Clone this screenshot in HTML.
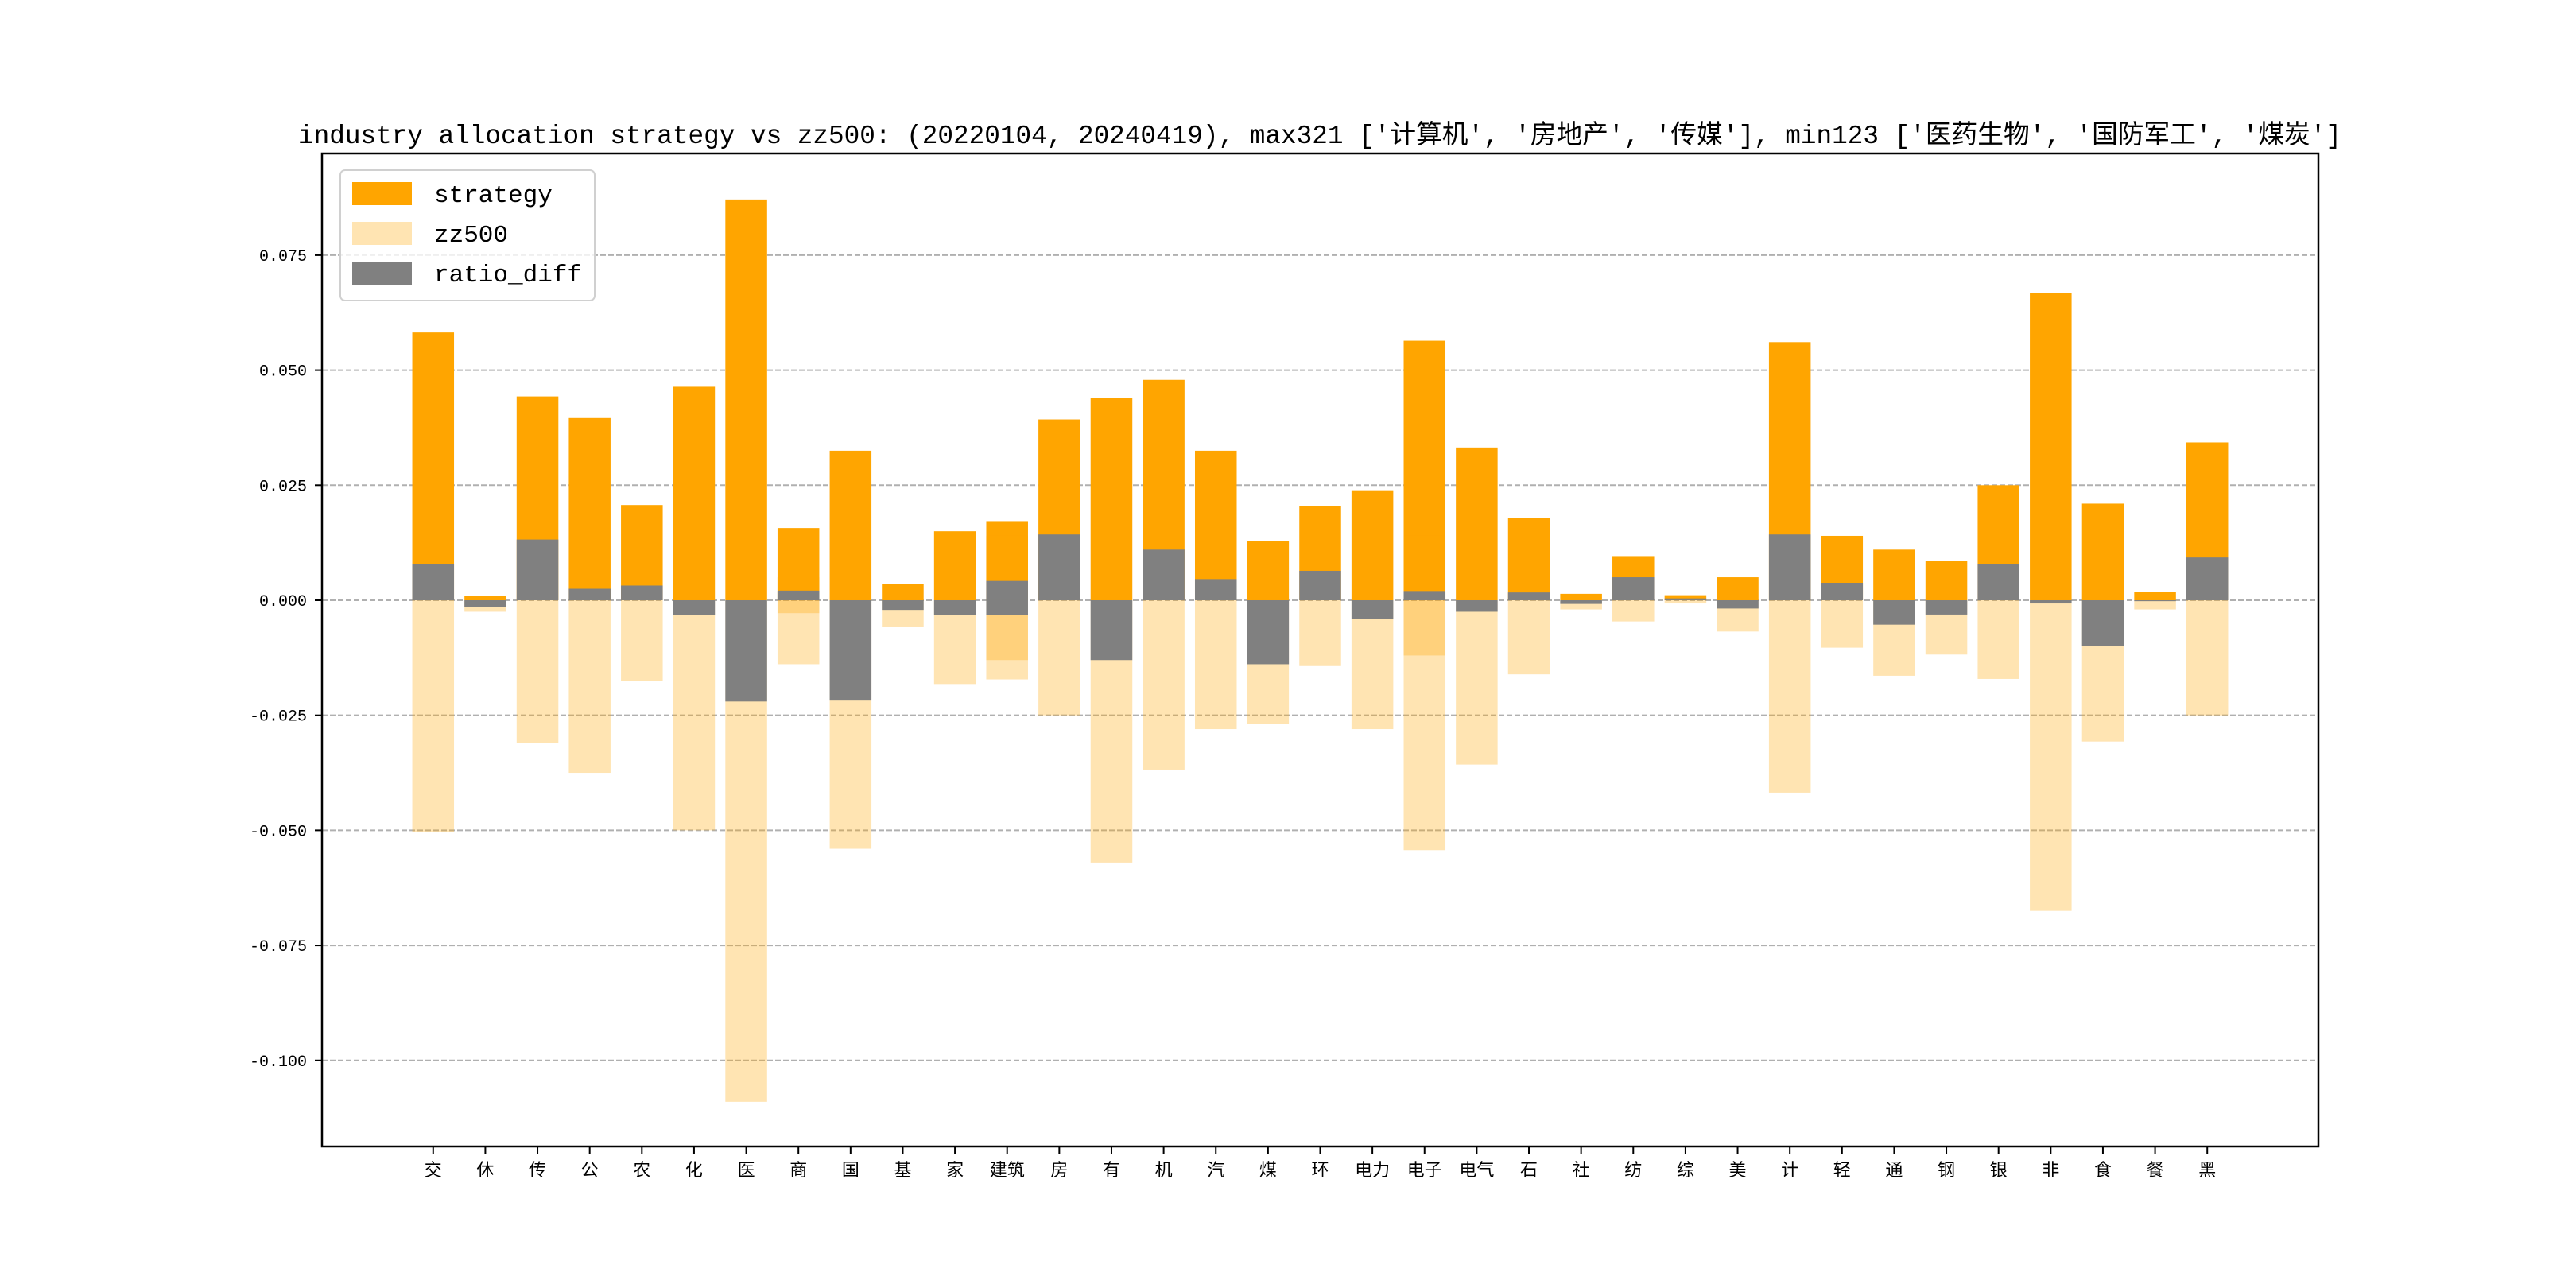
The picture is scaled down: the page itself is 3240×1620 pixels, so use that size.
<!DOCTYPE html>
<html><head><meta charset="utf-8">
<style>
html,body{margin:0;padding:0;background:#fff;}
svg{display:block;}
text{font-family:"Liberation Mono","Noto Sans CJK SC",monospace;fill:#000;}
</style></head>
<body>
<svg id="chart" width="3240" height="1620" viewBox="0 0 3240 1620" xmlns="http://www.w3.org/2000/svg">
<rect x="0" y="0" width="3240" height="1620" fill="#fff"/>
<text x="1660" y="180" text-anchor="middle" font-size="33" textLength="2570" lengthAdjust="spacingAndGlyphs">industry allocation strategy vs zz500: (20220104, 20240419), max321 ['计算机', '房地产', '传媒'], min123 ['医药生物', '国防军工', '煤炭']</text>
<g id="grid"></g>
<g id="bars"></g>
<g id="axes"></g>
<g id="legend">
<rect x="428" y="214" width="320" height="164" rx="6" fill="#fff" fill-opacity="0.8" stroke="#d0d0d0" stroke-width="2"/>
<rect x="443" y="229" width="75" height="29" fill="#ffa500"/>
<text x="546" y="254" font-size="31">strategy</text>
<rect x="443" y="279" width="75" height="29" fill="#ffa500" fill-opacity="0.3"/>
<text x="546" y="304" font-size="31">zz500</text>
<rect x="443" y="329" width="75" height="29" fill="#808080"/>
<text x="546" y="354" font-size="31">ratio_diff</text>
</g>
</svg>
<script>
const categories = ["交","休","传","公","农","化","医","商","商","国","基","家","建筑","建筑","房","有","机","汽","煤","环","电力","电子","电子","电气","石","社","纺","综","美","计","轻","通","钢","银","非","食","餐","黑"];
const strategyValues = [0.0582,0.0010,0.0443,0.0396,0.0207,0.0464,0.0871,0.0157,0.0050,0.0325,0.0036,0.0150,0.0172,0.0140,0.0393,0.0439,0.0479,0.0325,0.0129,0.0204,0.0239,0.0564,0.0140,0.0332,0.0178,0.0014,0.0096,0.0011,0.0050,0.0561,0.0140,0.0110,0.0086,0.0250,0.0668,0.0210,0.0018,0.0343];
const zz500Values = [0.0504,0.0025,0.0310,0.0375,0.0175,0.0500,0.1090,0.0139,0.0028,0.0540,0.0057,0.0182,0.0130,0.0172,0.0250,0.0570,0.0368,0.0280,0.0268,0.0143,0.0280,0.0543,0.0120,0.0357,0.0161,0.0020,0.0046,0.0007,0.0068,0.0418,0.0103,0.0164,0.0118,0.0171,0.0675,0.0307,0.0020,0.0250];
const diffValues = [0.0079,-0.0015,0.0132,0.0025,0.0032,-0.0032,-0.0220,0.0021,0.0020,-0.0218,-0.0021,-0.0032,0.0042,-0.0032,0.0143,-0.0130,0.0110,0.0046,-0.0139,0.0064,-0.0040,0.0020,0.0020,-0.0025,0.0017,-0.0008,0.0050,0.0004,-0.0018,0.0143,0.0038,-0.0053,-0.0031,0.0079,-0.0007,-0.0099,-0.0002,0.0093];
const yTickValues = [-0.100,-0.075,-0.050,-0.025,0.000,0.025,0.050,0.075];
const yTickLabels = ["-0.100","-0.075","-0.050","-0.025","0.000","0.025","0.050","0.075"];

const NS = "http://www.w3.org/2000/svg";
const L = 405, R = 2916, T = 193, B = 1442;
const labels = [...new Set(categories)];
const xMin = -2.13, xMax = labels.length - 1 + 2.13;
const yMin = -0.1187, yMax = 0.0971;
function xScale(v){ return L + (v - xMin) / (xMax - xMin) * (R - L); }
function yScale(v){ return B - (v - yMin) / (yMax - yMin) * (B - T); }
const bw = 0.8 * (R - L) / (xMax - xMin);
function mk(tag, attrs, parent){ const e = document.createElementNS(NS, tag); for (const k in attrs) e.setAttribute(k, attrs[k]); parent.appendChild(e); return e; }

const grid = document.getElementById("grid");
const bars = document.getElementById("bars");
const axes = document.getElementById("axes");

yTickValues.forEach((v, i) => {
  const y = yScale(v);
  const g = mk("line", {x1:L, x2:R, y1:y, y2:y, stroke:"#b0b0b0", "stroke-width":2, "stroke-dasharray":"7,3"}, grid);
  
  
  const t = mk("line", {x1:L-9, x2:L, y1:y, y2:y, stroke:"#000", "stroke-width":2}, axes);
  
  
  const lb = mk("text", {x:L-19, y:y+7, "text-anchor":"end", "font-size":20}, axes);
  lb.textContent = yTickLabels[i];
  
  
});

function barRect(idx, v, fill, opacity){
  const xc = xScale(labels.indexOf(categories[idx]));
  const y0 = yScale(0), y1 = yScale(v);
  return mk("rect", {x:xc - bw/2, y:Math.min(y0,y1), width:bw, height:Math.abs(y1-y0), fill:fill, "fill-opacity":opacity}, bars);
}
categories.forEach((c, i) => {
  const r = barRect(i, strategyValues[i], "#ffa500", 1);
  
  
});
categories.forEach((c, i) => {
  const r = barRect(i, -zz500Values[i], "#ffa500", 0.3);
  
  
});
categories.forEach((c, i) => {
  const r = barRect(i, diffValues[i], "#808080", 1);
  
  
});

labels.forEach((lab, i) => {
  const x = xScale(i);
  const t = mk("line", {x1:x, x2:x, y1:B, y2:B+9, stroke:"#000", "stroke-width":2}, axes);
  
  
  const lb = mk("text", {x:x, y:B+37, "text-anchor":"middle", "font-size":22}, axes);
  lb.textContent = lab;
  
  
});

const frame = mk("rect", {x:L, y:T, width:R-L, height:B-T, fill:"none", stroke:"#000", "stroke-width":2.5}, axes);


</script>
</body></html>
